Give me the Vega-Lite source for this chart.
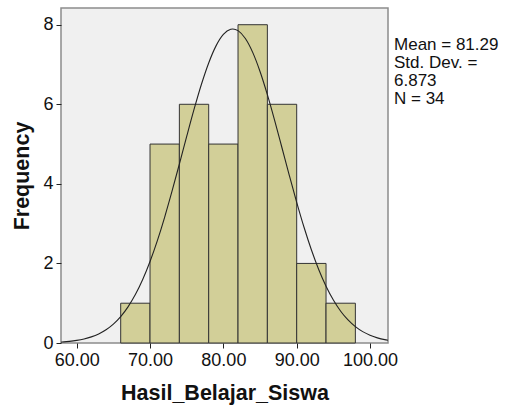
{
  "$schema": "https://vega.github.io/schema/vega-lite/v6.json",
  "autosize": "none",
  "width": 327,
  "height": 335,
  "padding": {"left": 61, "top": 8, "right": 123, "bottom": 69},
  "background": "white",
  "config": {
    "font": "Liberation Sans",
    "view": {"fill": "#f0f0f0", "stroke": "#8c8c8c", "strokeWidth": 1.5},
    "axis": {
      "grid": false,
      "domain": false,
      "tickColor": "#222",
      "tickSize": 5,
      "labelFont": "Liberation Sans",
      "labelFontSize": 18,
      "labelColor": "#111",
      "titleFont": "Liberation Sans",
      "titleFontSize": 21.5,
      "titleFontWeight": "bold",
      "titleColor": "#111"
    }
  },
  "datasets": {
    "bins": [
      {"bin_start": 66, "bin_end": 70, "count": 1},
      {"bin_start": 70, "bin_end": 74, "count": 5},
      {"bin_start": 74, "bin_end": 78, "count": 6},
      {"bin_start": 78, "bin_end": 82, "count": 5},
      {"bin_start": 82, "bin_end": 86, "count": 8},
      {"bin_start": 86, "bin_end": 90, "count": 6},
      {"bin_start": 90, "bin_end": 94, "count": 2},
      {"bin_start": 94, "bin_end": 98, "count": 1}
    ],
    "curve": [
      {"x": 57.86, "y": 0.020},
      {"x": 58, "y": 0.0254},
      {"x": 59, "y": 0.0410},
      {"x": 60, "y": 0.0652},
      {"x": 61, "y": 0.1012},
      {"x": 62, "y": 0.1537},
      {"x": 63, "y": 0.2289},
      {"x": 64, "y": 0.3335},
      {"x": 65, "y": 0.4758},
      {"x": 66, "y": 0.6647},
      {"x": 67, "y": 0.9093},
      {"x": 68, "y": 1.217},
      {"x": 69, "y": 1.596},
      {"x": 70, "y": 2.049},
      {"x": 71, "y": 2.574},
      {"x": 72, "y": 3.166},
      {"x": 73, "y": 3.815},
      {"x": 74, "y": 4.498},
      {"x": 75, "y": 5.193},
      {"x": 76, "y": 5.870},
      {"x": 77, "y": 6.497},
      {"x": 78, "y": 7.039},
      {"x": 79, "y": 7.468},
      {"x": 80, "y": 7.756},
      {"x": 81, "y": 7.887},
      {"x": 81.29, "y": 7.894},
      {"x": 82, "y": 7.852},
      {"x": 83, "y": 7.653},
      {"x": 84, "y": 7.304},
      {"x": 85, "y": 6.824},
      {"x": 86, "y": 6.242},
      {"x": 87, "y": 5.590},
      {"x": 88, "y": 4.901},
      {"x": 89, "y": 4.208},
      {"x": 90, "y": 3.537},
      {"x": 91, "y": 2.910},
      {"x": 92, "y": 2.344},
      {"x": 93, "y": 1.849},
      {"x": 94, "y": 1.428},
      {"x": 95, "y": 1.080},
      {"x": 96, "y": 0.799},
      {"x": 97, "y": 0.579},
      {"x": 98, "y": 0.4108},
      {"x": 99, "y": 0.2855},
      {"x": 100, "y": 0.1941},
      {"x": 101, "y": 0.1292},
      {"x": 102, "y": 0.0843},
      {"x": 102.45, "y": 0.070}
    ],
    "stats": [
      {"x": 103.27, "y": 7.7, "label": ["Mean = 81.29", "Std. Dev. =", "6.873", "N = 34"]}
    ]
  },
  "layer": [
    {
      "data": {"name": "bins"},
      "mark": {"type": "rect", "fill": "#d2cf98", "stroke": "#333333", "strokeWidth": 1},
      "encoding": {
        "x": {
          "field": "bin_start", "type": "quantitative",
          "scale": {"domain": [57.86, 102.45], "nice": false, "zero": false},
          "axis": {"values": [60, 70, 80, 90, 100], "format": ".2f", "title": "Hasil_Belajar_Siswa", "labelPadding": 3, "titlePadding": 13}
        },
        "x2": {"field": "bin_end"},
        "y": {
          "field": "count", "type": "quantitative",
          "scale": {"domain": [0, 8.42], "nice": false},
          "axis": {"values": [0, 2, 4, 6, 8], "title": "Frequency", "labelPadding": 3, "titlePadding": 9}
        },
        "y2": {"datum": 0}
      }
    },
    {
      "data": {"name": "curve"},
      "mark": {"type": "line", "color": "#222222", "strokeWidth": 1.1, "interpolate": "monotone", "clip": true},
      "encoding": {
        "x": {"field": "x", "type": "quantitative"},
        "y": {"field": "y", "type": "quantitative"}
      }
    },
    {
      "data": {"name": "stats"},
      "mark": {"type": "text", "align": "left", "baseline": "top", "fontSize": 17, "lineHeight": 18, "color": "#111", "clip": false},
      "encoding": {
        "x": {"field": "x", "type": "quantitative"},
        "y": {"field": "y", "type": "quantitative"},
        "text": {"field": "label"}
      }
    }
  ]
}
